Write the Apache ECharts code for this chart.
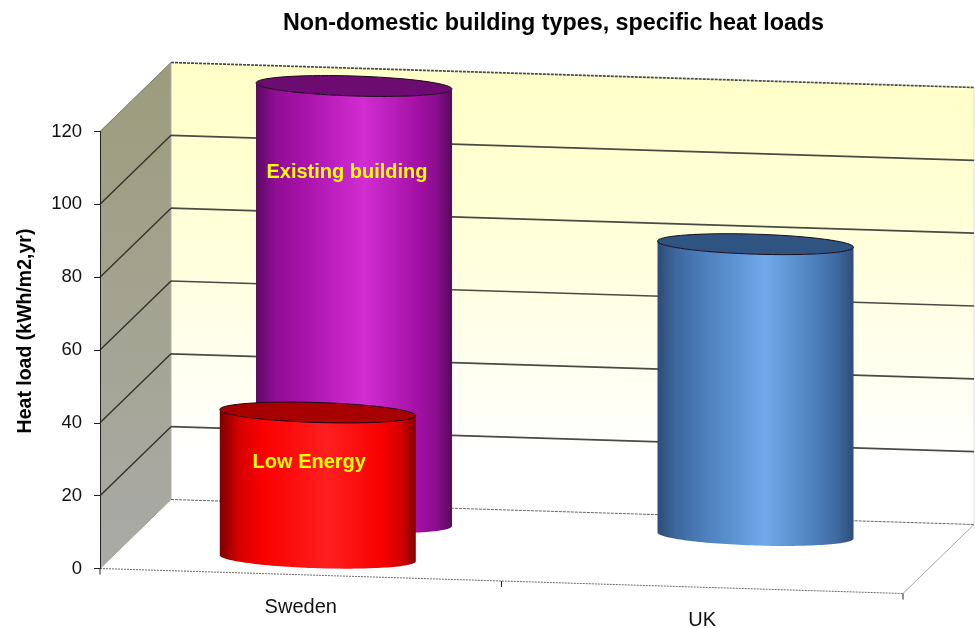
<!DOCTYPE html>
<html>
<head>
<meta charset="utf-8">
<title>Non-domestic building types, specific heat loads</title>
<script src="https://cdn.jsdelivr.net/npm/echarts@6/dist/echarts.min.js"></script>
<style>
  html, body { margin: 0; padding: 0; background: #fff; }
  #chart { width: 975px; height: 628px; }
</style>
</head>
<body>
<div id="chart"></div>
<script>
// Heat load per building type, kWh/m2,yr
const categories = ['Sweden', 'UK'];
const existingBuilding = [120, 80];
const lowEnergy = [40, null];
const wallGridValues = [0, 20, 40, 60, 80, 100, 120];

// Oblique projection of the chart box
const SKEW_PER_CATEGORY = 12.5;   // front edge falls to the right
const DEPTH_X = 71;
const DEPTH_Y = -69;
const RADIUS_X = 98;
const RADIUS_Y = 10;
const ELLIPSE_SLOPE = 0.031;

const shades = {
  purple: { stops: ['#5c0a62', '#8f0e94', '#a411a6', '#d22dd2', '#a411a6', '#8a0e8e', '#560a5a'], cap: '#6c0b70' },
  red:    { stops: ['#7c0000', '#d80000', '#fa0000', '#ff2020', '#fa0000', '#d80000', '#860000'], cap: '#a60000' },
  blue:   { stops: ['#2d4c78', '#3e689f', '#4a7cb8', '#70a9ea', '#4a7cb8', '#3e689f', '#2d4c78'], cap: '#2f5481' }
};
const STOP_OFFSETS = [0, 0.1, 0.22, 0.55, 0.82, 0.92, 1];
const FONT_FAMILY = '"Liberation Sans", Arial, sans-serif';

function project(api, cs, t, depth, value) {
  const y = api.coord([0, value])[1];
  return [
    cs.x + (t * cs.width) / categories.length + depth * DEPTH_X,
    y + t * SKEW_PER_CATEGORY + depth * DEPTH_Y
  ];
}

function ellipse(c, from, to) {
  const pts = [];
  const steps = 72;
  for (let i = 0; i <= steps; i++) {
    const a = from + ((to - from) * i) / steps;
    const dx = RADIUS_X * Math.cos(a);
    pts.push([c[0] + dx, c[1] + RADIUS_Y * Math.sin(a) + dx * ELLIPSE_SLOPE]);
  }
  return pts;
}

function renderBox(params, api) {
  const cs = params.coordSys;
  const P = (t, d, v) => project(api, cs, t, d, v);
  const n = categories.length;
  const thin = (a, b, stroke, dash, w) => ({
    type: 'line',
    shape: { x1: a[0], y1: a[1], x2: b[0], y2: b[1] },
    style: { stroke, lineWidth: w || 1, lineDash: dash || null }
  });
  const children = [
    {
      type: 'polygon',
      shape: { points: [P(0, 0, 0), P(0, 1, 0), P(0, 1, 120), P(0, 0, 120)] },
      style: {
        fill: {
          type: 'linear', x: 0, y: 0, x2: 0, y2: 1,
          colorStops: [{ offset: 0, color: '#9c9c7c' }, { offset: 0.45, color: '#a3a38f' }, { offset: 1, color: '#aaaaa8' }]
        }
      }
    },
    {
      type: 'polygon',
      shape: { points: [P(0, 1, 0), P(n, 1, 0), P(n, 1, 120), P(0, 1, 120)] },
      style: {
        fill: {
          type: 'linear', x: 0, y: 0, x2: 0, y2: 1,
          colorStops: [{ offset: 0, color: '#ffffc8' }, { offset: 0.35, color: '#ffffd8' }, { offset: 0.85, color: '#ffffff' }, { offset: 1, color: '#ffffff' }]
        }
      }
    },
    thin(P(0, 1, 0), P(0, 1, 120), '#b0b0a8'),
    thin(P(n, 1, 0), P(n, 1, 120), '#bdbdbd', [1, 1]),
    thin(P(0, 0, 0), P(0, 1, 0), '#a0a0a0'),
    thin(P(n, 0, 0), P(n, 1, 0), '#a8a8a8'),
    thin(P(0, 0, 0), P(n, 0, 0), '#6a6a6a', [2, 1])
  ];
  for (let i = 0; i <= n; i++) {
    const a = P(i, 0, 0);
    children.push(thin(a, [a[0], a[1] + 6], '#222222'));
  }
  return { type: 'group', children };
}

function renderWallLine(params, api) {
  const cs = params.coordSys;
  const v = api.value(1);
  const P = (t, d) => project(api, cs, t, d, v);
  const n = categories.length;
  const floor = v === 0;
  const line = (a, b, stroke, w, dash) => ({
    type: 'line',
    shape: { x1: a[0], y1: a[1], x2: b[0], y2: b[1] },
    style: { stroke, lineWidth: w, lineDash: dash || null }
  });
  const children = [line(P(0, 1), P(n, 1), floor ? '#666666' : '#4a4a44', floor ? 1 : 1.7, floor || v === 120 ? [3, 1] : null)];
  if (!floor && v !== 120) children.push(line(P(0, 0), P(0, 1), '#33332e', 1.4));
  if (v === 120) children.push(line(P(0, 0), P(0, 1), '#77776a', 1));
  return { type: 'group', children };
}

function cylinderRenderer(depth, palette, caption) {
  return function (params, api) {
    const cs = params.coordSys;
    const idx = api.value(0);
    const v = api.value(1);
    const base = project(api, cs, idx + 0.5, depth, 0);
    const top = project(api, cs, idx + 0.5, depth, v);
    const shade = shades[palette[idx]];
    const body = ellipse(base, Math.PI, 0).concat(ellipse(top, 0, Math.PI));
    const children = [
      {
        type: 'polygon',
        shape: { points: body },
        style: {
          fill: {
            type: 'linear', x: 0, y: 0, x2: 1, y2: 0,
            colorStops: shade.stops.map((color, i) => ({ offset: STOP_OFFSETS[i], color }))
          }
        }
      },
      {
        type: 'polygon',
        shape: { points: ellipse(top, 0, Math.PI * 2) },
        style: { fill: shade.cap, stroke: '#1c0a1c', lineWidth: 1 }
      }
    ];
    if (caption && caption.indices.includes(idx)) {
      children.push({
        type: 'text',
        style: {
          text: caption.text,
          x: top[0] + caption.dx,
          y: top[1] + caption.dy,
          fill: '#ffff00',
          font: 'bold 20px ' + FONT_FAMILY,
          align: 'center',
          verticalAlign: 'middle'
        }
      });
    }
    return { type: 'group', children };
  };
}

function renderCategoryLabel(params, api) {
  const cs = params.coordSys;
  const idx = api.value(0);
  const p = project(api, cs, idx + 0.5, 0, 0);
  return {
    type: 'text',
    style: {
      text: categories[idx],
      x: p[0],
      y: p[1] + 33,
      fill: '#111111',
      font: '20px ' + FONT_FAMILY,
      align: 'center',
      verticalAlign: 'middle'
    }
  };
}

const chart = echarts.init(document.getElementById('chart'), null, { renderer: 'canvas' });

const toPairs = (arr) => arr.map((v, i) => [i, v]).filter((d) => d[1] != null);

chart.setOption({
  animation: false,
  backgroundColor: '#ffffff',
  title: {
    text: 'Non-domestic building types, specific heat loads',
    left: 548.5,
    top: 7,
    textAlign: 'center',
    textStyle: { fontFamily: FONT_FAMILY, fontWeight: 'bold', fontSize: 23.3, color: '#000' }
  },
  grid: { left: 100, right: 72, top: 131.5, bottom: 59.5 },
  xAxis: { type: 'category', data: categories, show: false },
  yAxis: {
    type: 'value',
    min: 0,
    max: 120,
    interval: 20,
    name: 'Heat load (kWh/m2,yr)',
    nameLocation: 'middle',
    nameGap: 64,
    nameTextStyle: { fontFamily: FONT_FAMILY, fontWeight: 'bold', fontSize: 19.5, color: '#000', padding: [0, 0, 0, 38] },
    axisLine: { show: true, lineStyle: { color: '#222', width: 1 } },
    axisTick: { show: true, length: 6, lineStyle: { color: '#222' } },
    axisLabel: { fontFamily: FONT_FAMILY, fontSize: 18.5, color: '#111', margin: 18, padding: [3, 0, 0, 0] },
    splitLine: { show: false },
    z: 10
  },
  series: [
    { type: 'custom', silent: true, z: 1, data: [[0, 0]], renderItem: renderBox },
    { type: 'custom', silent: true, z: 2, data: wallGridValues.map((v) => [0, v]), renderItem: renderWallLine },
    {
      type: 'custom', name: 'Existing building', silent: true, z: 3,
      data: toPairs(existingBuilding),
      renderItem: cylinderRenderer(0.75, ['purple', 'blue'], { text: 'Existing building', indices: [0], dx: -7, dy: 86.5 })
    },
    {
      type: 'custom', name: 'Low Energy', silent: true, z: 4,
      data: toPairs(lowEnergy),
      renderItem: cylinderRenderer(0.24, ['red', 'red'], { text: 'Low Energy', indices: [0], dx: -8.5, dy: 49.5 })
    },
    { type: 'custom', silent: true, z: 5, data: categories.map((c, i) => [i, 0]), renderItem: renderCategoryLabel }
  ]
});
</script>
</body>
</html>
